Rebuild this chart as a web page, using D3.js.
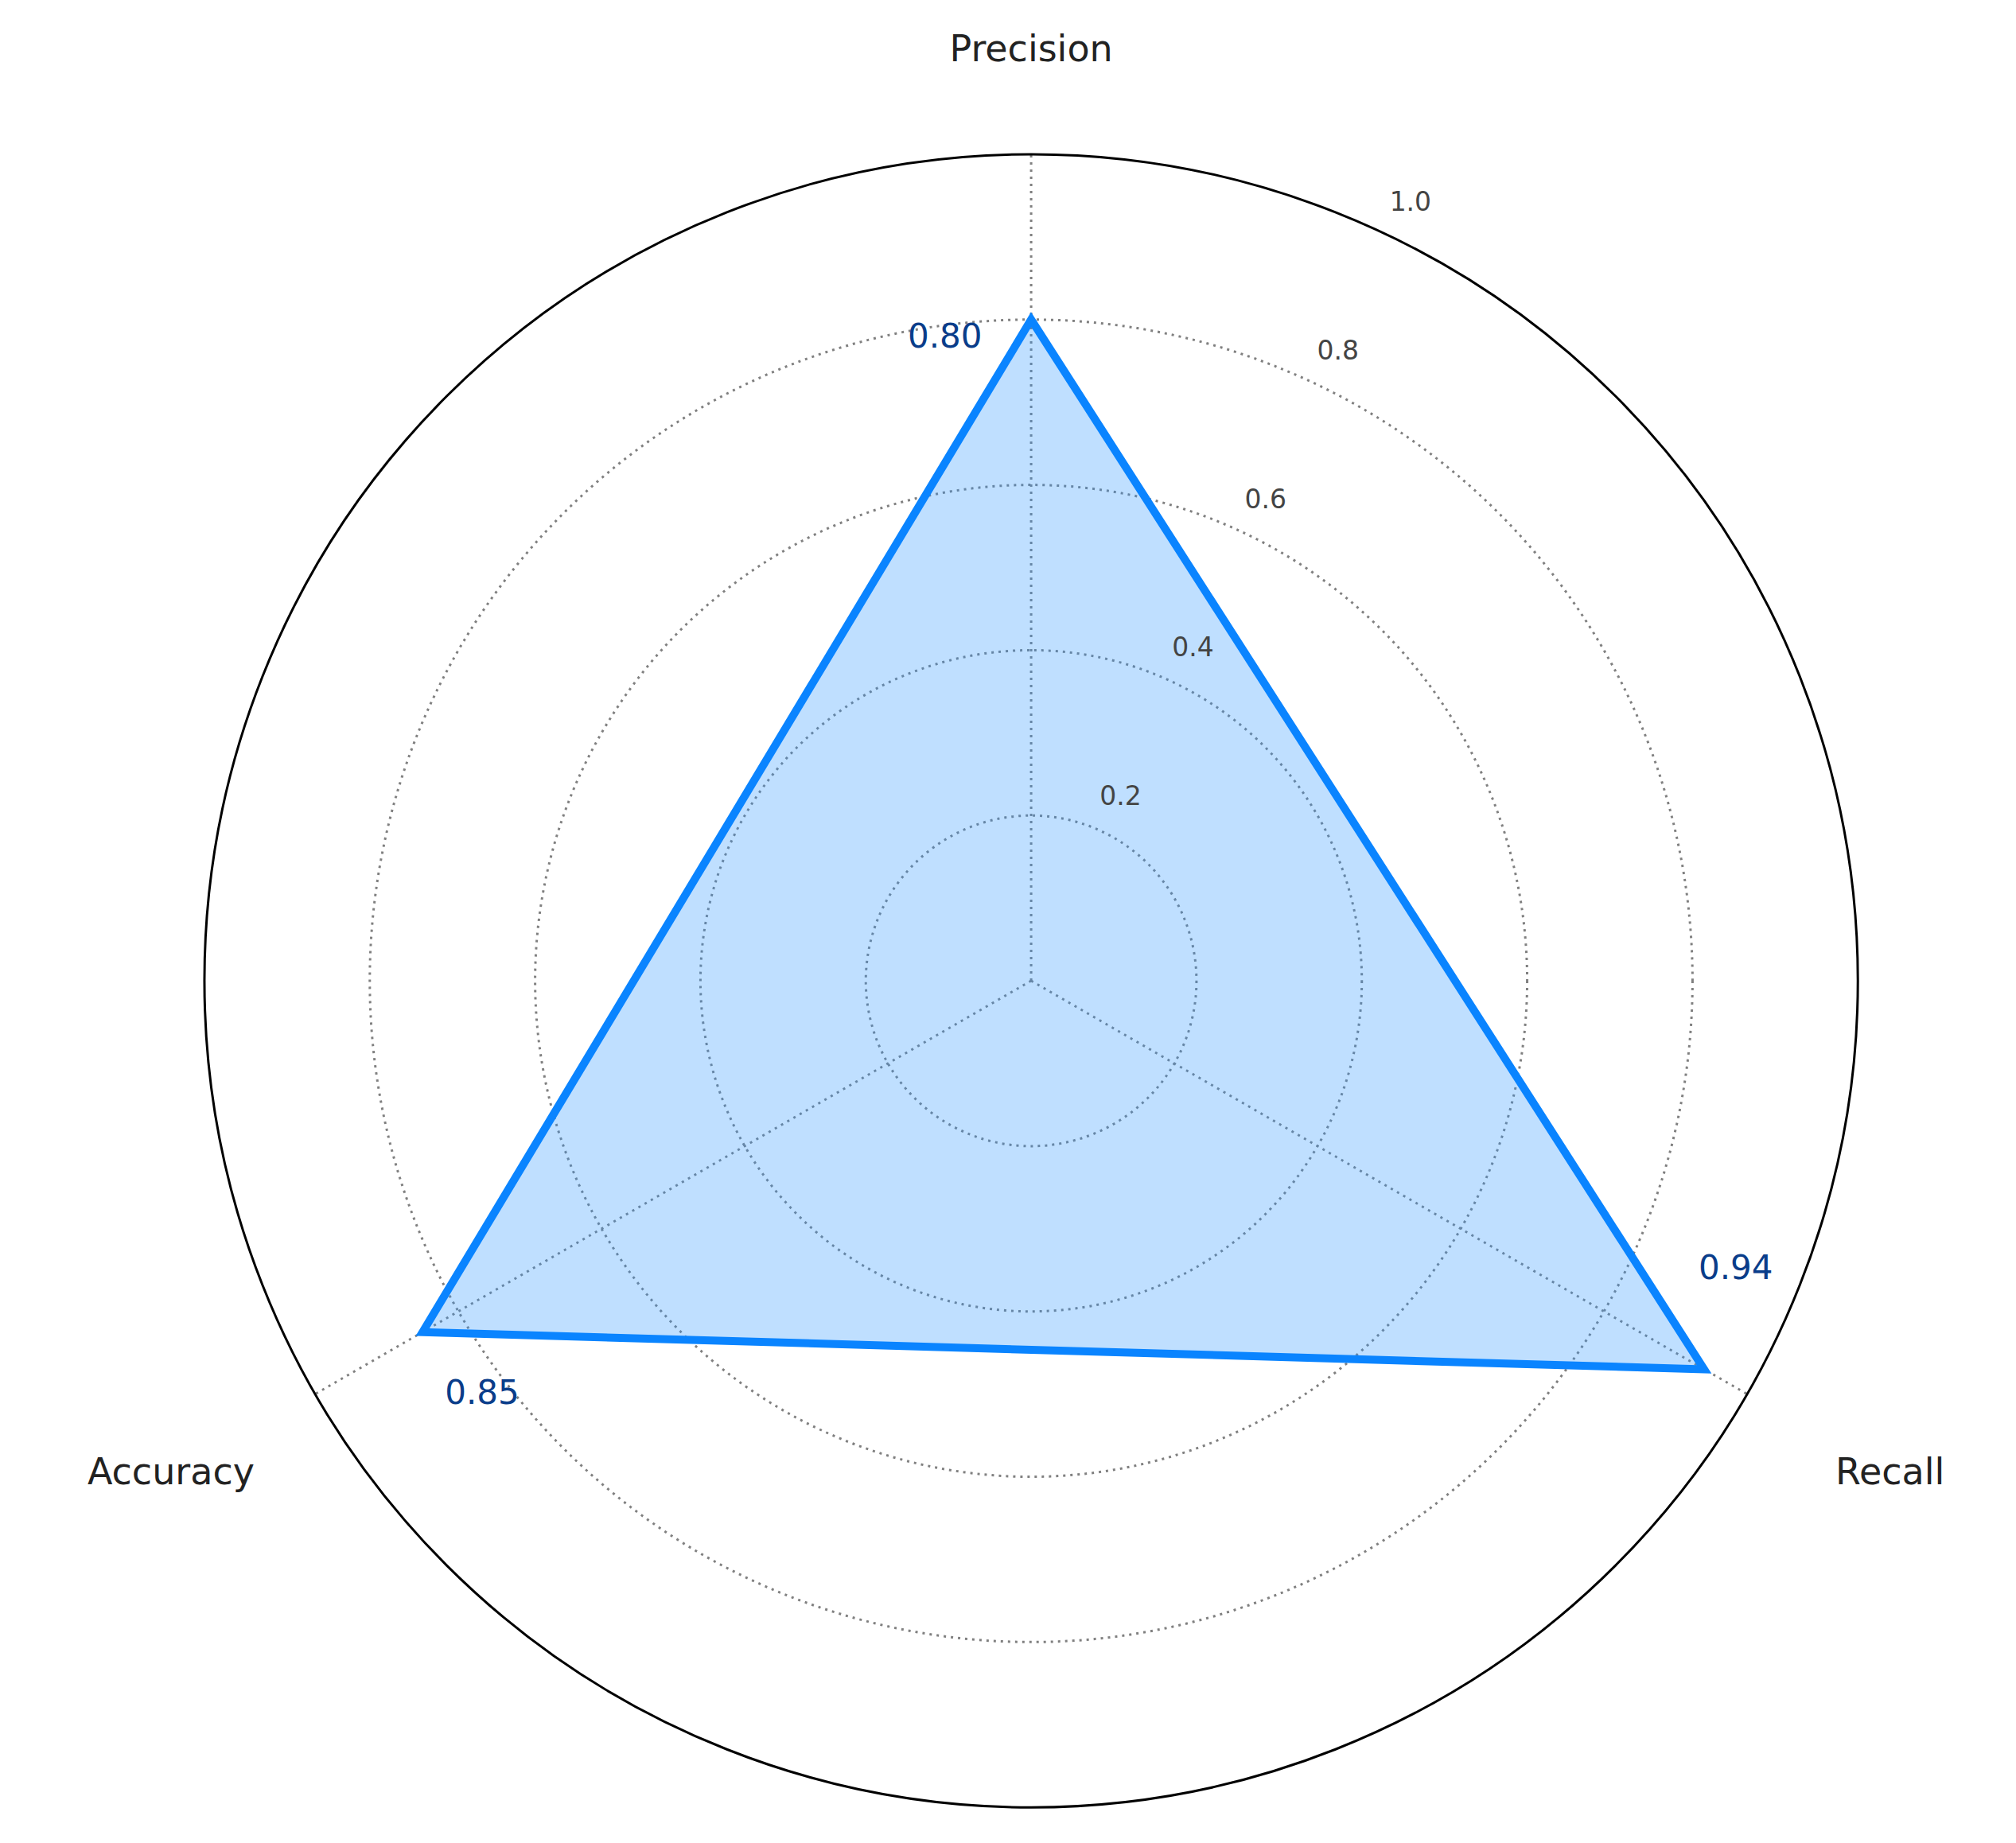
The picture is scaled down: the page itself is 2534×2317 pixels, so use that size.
<!DOCTYPE html><html><head><meta charset="utf-8"><script src="https://cdn.jsdelivr.net/npm/d3@7"></script>
<style>body{margin:0;background:#fff}</style></head><body><svg id="c" width="2534" height="2317"></svg>
<script>
const categories=["Precision","Recall","Accuracy"];
const values=[0.80,0.94,0.85];
const ticks=[0.2,0.4,0.6,0.8,1.0];
const k=2534/1568;
const cx=802*k, cy=763*k, R=643*k;
const svg=d3.select("#c");
const r=d3.scaleLinear().domain([0,1]).range([0,R]);
const ang=d3.scaleOrdinal().domain(categories).range([90,-30,210].map(a=>a*Math.PI/180));
const pt=(a,rr)=>[cx+rr*Math.cos(a), cy-rr*Math.sin(a)];
const g=svg.append("g");
ticks.slice(0,4).forEach(t=>g.append("circle").attr("cx",cx).attr("cy",cy).attr("r",r(t)).attr("fill","none").attr("stroke","#808080").attr("stroke-width",3).attr("stroke-dasharray","3,6"));
categories.forEach(c=>{const p=pt(ang(c),R);g.append("line").attr("x1",cx).attr("y1",cy).attr("x2",p[0]).attr("y2",p[1]).attr("stroke","#808080").attr("stroke-width",3).attr("stroke-dasharray","3,6");});
const pts=categories.map((c,i)=>pt(ang(c),r(values[i])));
g.append("path").attr("d",d3.line()(pts)+"Z").attr("fill","#2b95ff").attr("fill-opacity",0.3).attr("stroke","#0a84ff").attr("stroke-width",10).attr("stroke-linejoin","miter");
g.append("circle").attr("cx",cx).attr("cy",cy).attr("r",R).attr("fill","none").attr("stroke","#000").attr("stroke-width",3);
const ta=64*Math.PI/180;
ticks.forEach(t=>{const p=pt(ta,r(t)+30*k);g.append("text").attr("x",p[0]).attr("y",p[1]).attr("text-anchor","middle").attr("dominant-baseline","middle").attr("font-family","DejaVu Sans").attr("font-size",33).attr("fill","#444").text(t.toFixed(1));});
const labPos=[[802,40,"middle"],[1470,1147,"middle"],[133,1147,"middle"]];
categories.forEach((c,i)=>g.append("text").attr("x",labPos[i][0]*k).attr("y",labPos[i][1]*k).attr("text-anchor",labPos[i][2]).attr("dominant-baseline","middle").attr("font-family","DejaVu Sans").attr("font-size",46).attr("fill","#222").text(c));
const valPos=[[735,263],[1350,988],[375,1085]];
values.forEach((v,i)=>g.append("text").attr("x",valPos[i][0]*k).attr("y",valPos[i][1]*k).attr("text-anchor","middle").attr("dominant-baseline","middle").attr("font-family","DejaVu Sans").attr("font-size",42).attr("fill","#0a3d8a").text(v.toFixed(2)));
</script></body></html>
